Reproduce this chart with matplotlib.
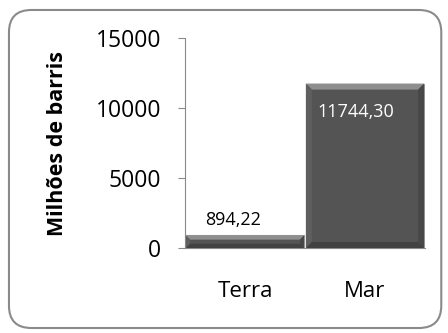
import matplotlib
matplotlib.use("Agg")
import matplotlib.pyplot as plt
from matplotlib.patches import FancyBboxPatch, Polygon
import numpy as np

categories = ["Terra", "Mar"]
values = [894.22, 11744.30]
value_labels = ["894,22", "11744,30"]
yticks = [0, 5000, 10000, 15000]
ylabel = "Milhões de barris"

plt.rcParams['font.family'] = ['Open Sans', 'DejaVu Sans']

W, H = 448, 333
fig = plt.figure(figsize=(W / 100, H / 100), dpi=100)
border = FancyBboxPatch((0.02, 0.015), 0.965, 0.955, boxstyle="round,pad=0,rounding_size=0.05",
                        transform=fig.transFigure, facecolor="none", edgecolor="#8a8a8a",
                        linewidth=1.5, mutation_aspect=W / H, zorder=-1)
fig.patches.append(border)

ax_l, ax_b, ax_w, ax_h = 185 / W, 1 - 248 / H, 240 / W, 210 / H
ax = fig.add_axes([ax_l, ax_b, ax_w, ax_h])
ax.set_facecolor("none")
ax.set_xlim(-0.5, 1.5)
ax.set_ylim(0, 15000)

x = np.arange(len(categories))
bars = ax.bar(x, values, width=0.985, color="#545454", edgecolor="#9a9a9a", linewidth=0.8, zorder=2)

px_x = 2.0 / (ax_w * W)
px_y = 15000.0 / (ax_h * H)
for b in bars:
    x0, y0, bw, bh = b.get_x(), b.get_y(), b.get_width(), b.get_height()
    x1, y1 = x0 + bw, y0 + bh
    bev_px = min(6.0, bh / px_y / 3)
    bx, by = bev_px * px_x, bev_px * px_y
    ax.add_patch(Polygon([(x0, y1), (x1, y1), (x1 - bx, y1 - by), (x0 + bx, y1 - by)],
                         closed=True, facecolor="#8e8e8e", edgecolor="none", zorder=3))
    ax.add_patch(Polygon([(x0, y0), (x0, y1), (x0 + bx, y1 - by), (x0 + bx, y0 + by)],
                         closed=True, facecolor="#5f5f5f", edgecolor="none", zorder=3))
    ax.add_patch(Polygon([(x1, y0), (x1, y1), (x1 - bx, y1 - by), (x1 - bx, y0 + by)],
                         closed=True, facecolor="#484848", edgecolor="none", zorder=3))
    ax.add_patch(Polygon([(x0, y0), (x1, y0), (x1 - bx, y0 + by), (x0 + bx, y0 + by)],
                         closed=True, facecolor="#424242", edgecolor="none", zorder=3))

ax.set_yticks(yticks)
ax.set_yticklabels([str(t) for t in yticks], fontsize=16.5)
ax.set_xticks(x)
ax.set_xticklabels(categories, fontsize=16)
ax.tick_params(axis='x', length=0, pad=24)
ax.tick_params(axis='y', length=5, color="#8a8a8a", pad=12)
for s in ["top", "right"]:
    ax.spines[s].set_visible(False)
ax.spines["left"].set_color("#8a8a8a")
ax.spines["bottom"].set_color("#8a8a8a")
ax.set_ylabel(ylabel, fontsize=15.5, fontweight="bold")
ax.yaxis.set_label_coords((68 - 185) / 240, 0.5)

ax.text(x[0] - 0.1, values[0] + 1100, value_labels[0], ha="center", va="center", fontsize=13, color="black", zorder=5)
ax.text(x[1] - 0.08, values[1] - 2050, value_labels[1], ha="center", va="center", fontsize=13, color="white", zorder=5)

fig.savefig("out.png", dpi=100)
